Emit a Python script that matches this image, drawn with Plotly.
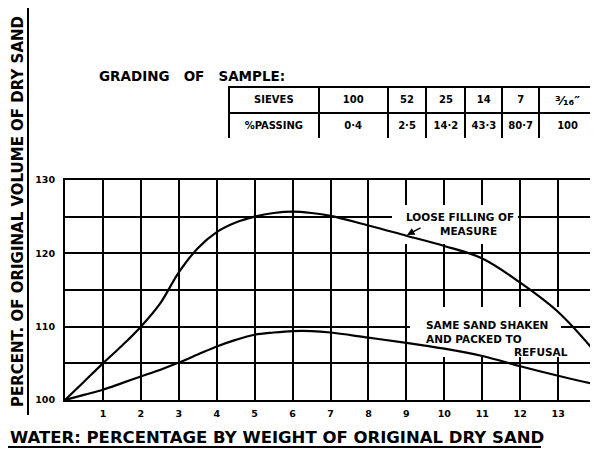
import plotly.graph_objects as go

# ---------------- data ----------------
water_pct = [0, 0.5, 1, 1.5, 2, 2.5, 3, 3.5, 4, 4.5, 5, 5.5, 6, 6.5, 7, 8, 9, 10, 11, 12, 13, 14]
loose_filling = [100, 102.5, 105, 107.4, 110, 113.1, 117.4, 120.7, 122.9, 124.2, 125.0, 125.5,
                 125.7, 125.5, 125.1, 123.8, 122.4, 121.0, 119.3, 116.0, 112.0, 106.4]
packed_refusal = [100, 100.7, 101.4, 102.3, 103.2, 104.1, 105.1, 106.2, 107.3, 108.2, 108.9, 109.2,
                  109.4, 109.4, 109.2, 108.5, 107.8, 107.0, 106.0, 104.6, 103.3, 102.1]

x_ticks = list(range(1, 15))
y_ticks = [100, 105, 110, 115, 120, 125, 130]
y_ticktext = ["100", "", "110", "", "120", "", "130"]

sieves = ["100", "52", "25", "14", "7", "³⁄₁₆″"]
passing = [0.4, 2.5, 14.2, 43.3, 80.7, 100]

FONT = "DejaVu Sans"
OFF = 8                      # the page body margin shifts the figure by 8 px
W, H = 598 - OFF, 449 - OFF
L, R, T = 65 - OFF, 0, 0
PLOT_BOTTOM = 400 - OFF      # figure px
PLOT_TOP = 180 - OFF
B = H - PLOT_BOTTOM
X_MAX = 14.05

pw = W - L - R
ph = H - T - B
ydom_top = (PLOT_BOTTOM - PLOT_TOP) / ph


def xp(px):  # reference pixel -> paper x
    return (px - OFF - L) / pw


def yp(py):  # reference pixel -> paper y
    return (PLOT_BOTTOM - (py - OFF)) / ph


def xd(px):  # reference pixel -> data x
    return (px - OFF - L) / pw * X_MAX


def yd(py):  # reference pixel -> data y
    return 100 + (PLOT_BOTTOM - (py - OFF)) / (PLOT_BOTTOM - PLOT_TOP) * 30


fig = go.Figure()

for ys in (loose_filling, packed_refusal):
    fig.add_trace(go.Scatter(x=water_pct, y=ys, mode="lines",
                             line=dict(color="black", width=2.2, shape="spline", smoothing=1.0),
                             showlegend=False, hoverinfo="skip"))

fmt = [f"{v:g}".replace(".", "·") for v in passing]
fig.add_trace(go.Table(
    domain=dict(x=[xp(229), xp(597)], y=[yp(139), yp(87)]),
    columnwidth=[90, 69, 39, 39, 37, 37, 57],
    header=dict(values=["SIEVES"] + sieves, height=26, align="center",
                line=dict(color="black", width=2), fill=dict(color="white"),
                font=dict(family=FONT, size=[10, 10, 10, 10, 10, 10, 13], color="black", weight="bold")),
    cells=dict(values=[["%PASSING"]] + [[f] for f in fmt], height=26, align="center",
               line=dict(color="black", width=2), fill=dict(color="white"),
               font=dict(family=FONT, size=10, color="black", weight="bold")),
))

# white masks that break the grid behind the labels (drawn between grid and traces)
for (x0, x1, y0, y1) in [(392, 518, 205, 244), (410, 561, 307, 357)]:
    fig.add_shape(type="rect", xref="x", yref="y", x0=xd(x0), x1=xd(x1), y0=yd(y1), y1=yd(y0),
                  fillcolor="white", line=dict(width=0), layer="between")

# underlines of the axis titles
fig.add_shape(type="line", xref="paper", yref="paper", x0=xp(28), x1=xp(28), y0=yp(0), y1=yp(415),
              line=dict(color="black", width=2))
fig.add_shape(type="line", xref="paper", yref="paper", x0=xp(8), x1=xp(541), y0=yp(447), y1=yp(447),
              line=dict(color="black", width=2))

lab_font = dict(family=FONT, size=10.5, color="black", weight="bold")
for text, cx, cy in [("LOOSE FILLING OF", 460, 217), ("MEASURE", 468, 231),
                     ("SAME SAND SHAKEN", 487, 325), ("AND PACKED TO", 474, 339), ("REFUSAL", 541, 352)]:
    fig.add_annotation(x=xd(cx), y=yd(cy), xref="x", yref="y", text=text, showarrow=False,
                       xanchor="center", yanchor="middle", font=lab_font)

fig.add_annotation(x=xd(407), y=yd(235), xref="x", yref="y", text="", showarrow=True,
                   ax=15, ay=-8, arrowhead=2, arrowsize=1, arrowwidth=1.5, arrowcolor="black", standoff=0)

fig.add_annotation(x=xp(97), y=yp(76), xref="paper", yref="paper", text="GRADING\u00a0\u00a0 OF\u00a0\u00a0 SAMPLE:",
                   showarrow=False, xanchor="left", yanchor="middle",
                   font=dict(family=FONT, size=13.5, color="black", weight="bold"))

fig.add_annotation(x=xp(18), y=yp(212), xref="paper", yref="paper",
                   text="PERCENT. OF ORIGINAL VOLUME OF DRY SAND", textangle=-90, showarrow=False,
                   xanchor="center", yanchor="middle",
                   font=dict(family=FONT, size=15, color="black", weight="bold"))

fig.add_annotation(x=xp(8), y=yp(437), xref="paper", yref="paper",
                   text="WATER: PERCENTAGE BY WEIGHT OF ORIGINAL DRY SAND", showarrow=False,
                   xanchor="left", yanchor="middle",
                   font=dict(family=FONT, size=16.5, color="black", weight="bold"))

tick_font = dict(family=FONT, size=9.5, color="black", weight="bold")
fig.update_xaxes(range=[0, X_MAX], tickvals=x_ticks, ticktext=[str(v) for v in x_ticks],
                 showgrid=True, gridcolor="black", gridwidth=2, zeroline=False,
                 showline=True, mirror=True, linecolor="black", linewidth=2,
                 ticks="", tickfont=tick_font, ticklabeloverflow="allow", ticklabelstandoff=4,
                 automargin=False)
fig.update_yaxes(range=[100, 130], domain=[0, ydom_top], tickvals=y_ticks, ticktext=y_ticktext,
                 showgrid=True, gridcolor="black", gridwidth=2, zeroline=False,
                 showline=True, mirror=True, linecolor="black", linewidth=2,
                 ticks="", tickfont=tick_font, ticklabelstandoff=6, automargin=False)

fig.update_layout(width=W + 12, height=H, margin=dict(l=L, r=R + 12, t=T, b=B, autoexpand=False),
                  paper_bgcolor="white", plot_bgcolor="white", showlegend=False)

fig.write_html("out.html")
